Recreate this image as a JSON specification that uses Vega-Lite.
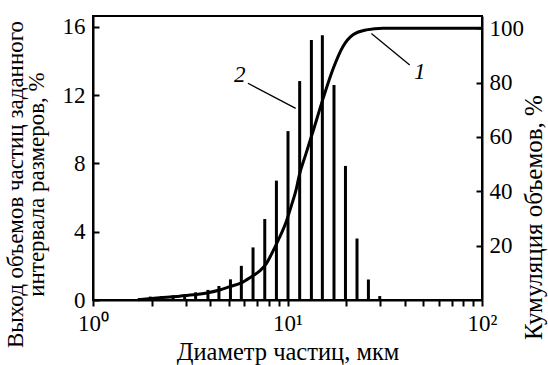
{
  "$schema": "https://vega.github.io/schema/vega-lite/v6.json",
  "width": 389,
  "height": 284,
  "autosize": {"type": "none"},
  "padding": {"left": 93, "top": 16, "right": 66, "bottom": 65},
  "background": "white",
  "config": {
    "view": {"stroke": "black", "strokeWidth": 2},
    "font": "Liberation Serif",
    "text": {"font": "Liberation Serif"},
    "axis": {
      "grid": false,
      "domainColor": "black",
      "domainWidth": 2,
      "tickColor": "black",
      "tickWidth": 2,
      "labelColor": "black",
      "titleColor": "black",
      "labelFont": "Liberation Serif",
      "titleFont": "Liberation Serif",
      "labelFontSize": 23,
      "titleFontSize": 23,
      "titleFontWeight": "normal"
    }
  },
  "datasets": {
    "bars": [
      {"d": 1.74, "h": 0.12},
      {"d": 1.97, "h": 0.2},
      {"d": 2.25, "h": 0.22},
      {"d": 2.58, "h": 0.27},
      {"d": 2.96, "h": 0.33},
      {"d": 3.37, "h": 0.45},
      {"d": 3.9, "h": 0.59},
      {"d": 4.44, "h": 0.82},
      {"d": 5.09, "h": 1.21},
      {"d": 5.79, "h": 2.0},
      {"d": 6.65, "h": 3.08},
      {"d": 7.64, "h": 4.74},
      {"d": 8.77, "h": 6.99},
      {"d": 10.06, "h": 9.89},
      {"d": 11.55, "h": 12.82},
      {"d": 13.27, "h": 15.22},
      {"d": 15.11, "h": 15.5},
      {"d": 17.34, "h": 12.59},
      {"d": 19.86, "h": 7.85},
      {"d": 22.77, "h": 3.6},
      {"d": 26.06, "h": 1.2},
      {"d": 29.8, "h": 0.23}
    ],
    "curve": [
      {"d": 1.7, "c": 0.1},
      {"d": 2.2, "c": 0.8},
      {"d": 2.7, "c": 1.3},
      {"d": 3.27, "c": 1.9},
      {"d": 3.9, "c": 2.7},
      {"d": 4.48, "c": 3.7},
      {"d": 5.04, "c": 4.9},
      {"d": 5.79, "c": 6.3},
      {"d": 6.5, "c": 8.5},
      {"d": 7.2, "c": 10.7},
      {"d": 7.8, "c": 13.5},
      {"d": 8.42, "c": 18},
      {"d": 9.1, "c": 23},
      {"d": 9.87, "c": 29},
      {"d": 10.5, "c": 35},
      {"d": 11.11, "c": 41},
      {"d": 11.46, "c": 45.5},
      {"d": 12.4, "c": 53.5},
      {"d": 13.52, "c": 62},
      {"d": 15.22, "c": 74},
      {"d": 17.14, "c": 85},
      {"d": 19.29, "c": 93.3},
      {"d": 21.72, "c": 97.6},
      {"d": 25.45, "c": 99.4},
      {"d": 30.97, "c": 100},
      {"d": 50, "c": 100},
      {"d": 100, "c": 100}
    ],
    "leaders": [
      {"d": 6.26, "h": 12.69, "d2": 11.02, "h2": 11.22},
      {"d": 27.0, "h": 15.61, "d2": 42.5, "h2": 13.76}
    ],
    "labels": [
      {"d": 5.68, "h": 13.17, "t": "2"},
      {"d": 47.8, "h": 13.37, "t": "1"}
    ]
  },
  "layer": [
    {
      "layer": [
        {
          "data": {"name": "bars"},
          "mark": {"type": "rule", "strokeWidth": 3, "color": "black"},
          "encoding": {
            "x": {
              "field": "d",
              "type": "quantitative",
              "scale": {"type": "log", "domain": [1, 100], "nice": false},
              "axis": {
                "values": [1, 2, 3, 4, 5, 6, 7, 8, 9, 10, 20, 30, 40, 50, 60, 70, 80, 90, 100],
                "labelExpr": "datum.value == 1 ? '10⁰' : datum.value == 10 ? '10¹' : datum.value == 100 ? '10²' : ''",
                "labelFont": "Liberation Serif",
                "labelFontSize": 23,
                "tickSize": 6,
                "labelPadding": 6,
                "labelFlush": false,
                "labelOverlap": false,
                "title": "Диаметр частиц, мкм",
                "titleFont": "Liberation Serif",
                "titleFontSize": 24.5,
                "titleBaseline": "alphabetic",
                "titleY": 59
              }
            },
            "y": {
              "field": "h",
              "type": "quantitative",
              "scale": {"domain": [0, 16.63], "nice": false},
              "axis": {
                "values": [0, 4, 8, 12, 16],
                "labelFont": "Liberation Serif",
                "labelFontSize": 23,
                "tickSize": -6,
                "labelPadding": 14,
                "title": ["Выход объемов частиц заданного", "интервала размеров, %"],
                "titleFont": "Liberation Serif",
                "titleFontSize": 23,
                "titleAngle": -90,
                "titleAlign": "center",
                "titleBaseline": "alphabetic",
                "titleLineHeight": 21.5,
                "titleX": -71,
                "titleY": 168
              }
            },
            "y2": {"datum": 0}
          }
        },
        {
          "data": {"name": "leaders"},
          "mark": {"type": "rule", "strokeWidth": 1.3, "color": "black"},
          "encoding": {
            "x": {"field": "d", "type": "quantitative"},
            "y": {"field": "h", "type": "quantitative"},
            "x2": {"field": "d2"},
            "y2": {"field": "h2"}
          }
        },
        {
          "data": {"name": "labels"},
          "mark": {"type": "text", "font": "Liberation Serif", "fontStyle": "italic", "fontSize": 23, "color": "black", "baseline": "middle", "align": "center"},
          "encoding": {
            "x": {"field": "d", "type": "quantitative"},
            "y": {"field": "h", "type": "quantitative"},
            "text": {"field": "t"}
          }
        }
      ]
    },
    {
      "data": {"name": "curve"},
      "mark": {"type": "line", "strokeWidth": 3, "color": "black", "interpolate": "monotone"},
      "encoding": {
        "x": {"field": "d", "type": "quantitative"},
        "y": {
          "field": "c",
          "type": "quantitative",
          "scale": {"domain": [0, 104.5], "nice": false},
          "axis": {
            "orient": "right",
            "values": [20, 40, 60, 80, 100],
            "labelFont": "Liberation Serif",
            "labelFontSize": 23,
            "tickSize": -6,
            "labelPadding": 13,
            "title": "Кумуляция объемов, %",
            "titleFont": "Liberation Serif",
            "titleFontSize": 25,
            "titleAngle": -90,
            "titleAlign": "center",
            "titleBaseline": "alphabetic",
            "titleX": 59,
            "titleY": 201
          }
        }
      }
    }
  ],
  "resolve": {"scale": {"y": "independent"}}
}
